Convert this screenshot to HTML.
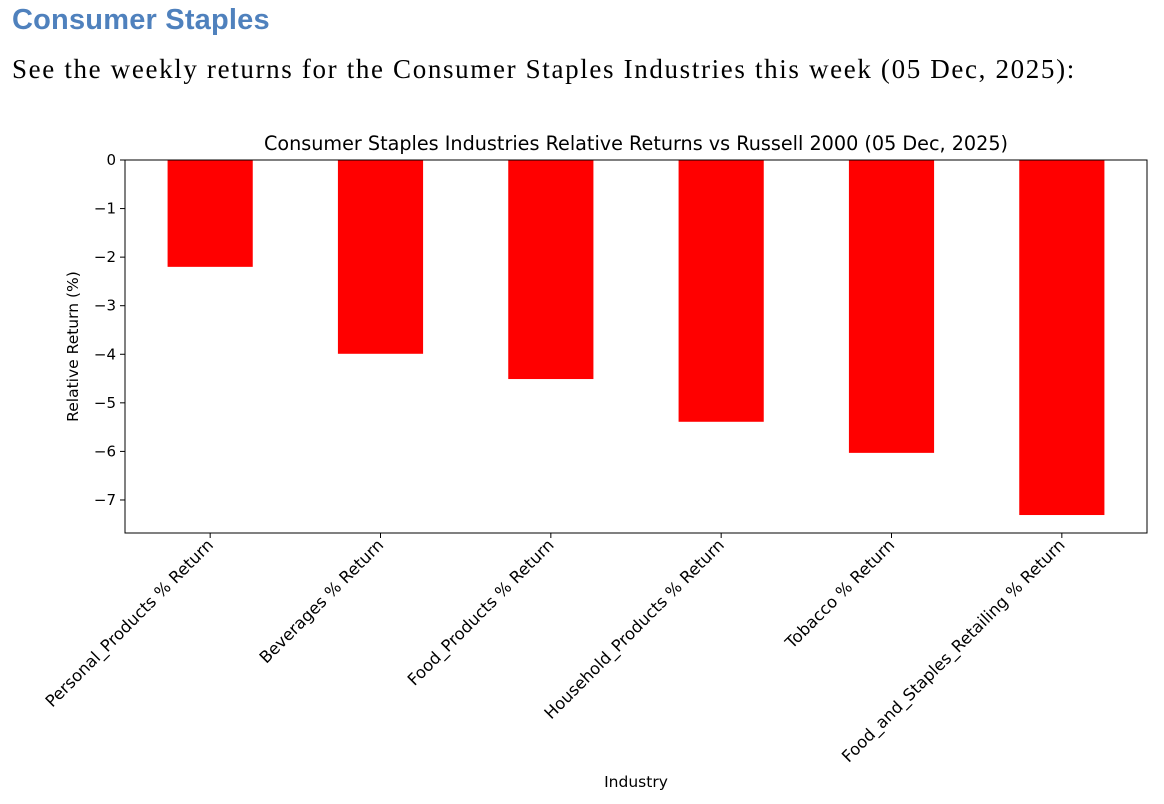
<!DOCTYPE html>
<html><head><meta charset="utf-8"><style>
body{margin:0;width:1164px;height:804px;background:#fff;overflow:hidden;position:relative}
h1{position:absolute;left:12px;top:4px;margin:0;font:bold 29px "Liberation Sans",sans-serif;color:#4f81bd;letter-spacing:0.2px}
p{position:absolute;left:12px;top:54px;margin:0;font:27px "Liberation Serif",serif;color:#000;letter-spacing:1.65px}
svg{position:absolute;left:0;top:0}
</style></head><body>
<h1>Consumer Staples</h1>
<p>See the weekly returns for the Consumer Staples Industries this week (05 Dec, 2025):</p>
<svg id="c" width="1164" height="804" font-family="DejaVu Sans, Liberation Sans, sans-serif"></svg>
<script>
const categories=["Personal_Products % Return","Beverages % Return","Food_Products % Return","Household_Products % Return","Tobacco % Return","Food_and_Staples_Retailing % Return"];
const values=[-2.2,-3.99,-4.51,-5.39,-6.03,-7.31];
const yTicks=[0,-1,-2,-3,-4,-5,-6,-7];
const L=125,R=1147,T=160,B=533,yMin=-7.68,yMax=0;
const y=v=>T+(yMax-v)/(yMax-yMin)*(B-T);
const step=(R-L)/categories.length;
const x=i=>L+step*(i+0.5);
const bw=step*0.5;
const s=document.getElementById('c');const NS='http://www.w3.org/2000/svg';
function mk(t,a,txt){const e=document.createElementNS(NS,t);for(const k in a)e.setAttribute(k,a[k]);if(txt!=null)e.textContent=txt;s.appendChild(e);return e;}
values.forEach((v,i)=>{
const r=mk('rect',{x:x(i)-bw/2,y:y(0),width:bw,height:y(v)-y(0),fill:'#ff0000'});


});
const ax=mk('rect',{x:L,y:T,width:R-L,height:B-T,fill:'none',stroke:'#000','stroke-width':1});


yTicks.forEach(v=>{
mk('line',{x1:L-5,x2:L,y1:y(v),y2:y(v),stroke:'#000'});
const t=mk('text',{x:L-9,y:y(v)+5,'text-anchor':'end','font-size':15},v===0?'0':'\u2212'+Math.abs(v));


});
categories.forEach((c,i)=>{
mk('line',{x1:x(i),x2:x(i),y1:B,y2:B+5,stroke:'#000'});
const t=mk('text',{x:x(i)+4,y:B+13,'text-anchor':'end','font-size':16.4,transform:`rotate(-45 ${x(i)+4} ${B+13})`},c);


});
const ti=mk('text',{x:(L+R)/2+0,y:150,'text-anchor':'middle','font-size':19.2},'Consumer Staples Industries Relative Returns vs Russell 2000 (05 Dec, 2025)');


const xl=mk('text',{x:(L+R)/2,y:787,'text-anchor':'middle','font-size':15.5},'Industry');


const yl=mk('text',{x:78,y:(T+B)/2,'text-anchor':'middle','font-size':15.5,transform:`rotate(-90 78 ${(T+B)/2})`},'Relative Return (%)');


</script>
</body></html>
